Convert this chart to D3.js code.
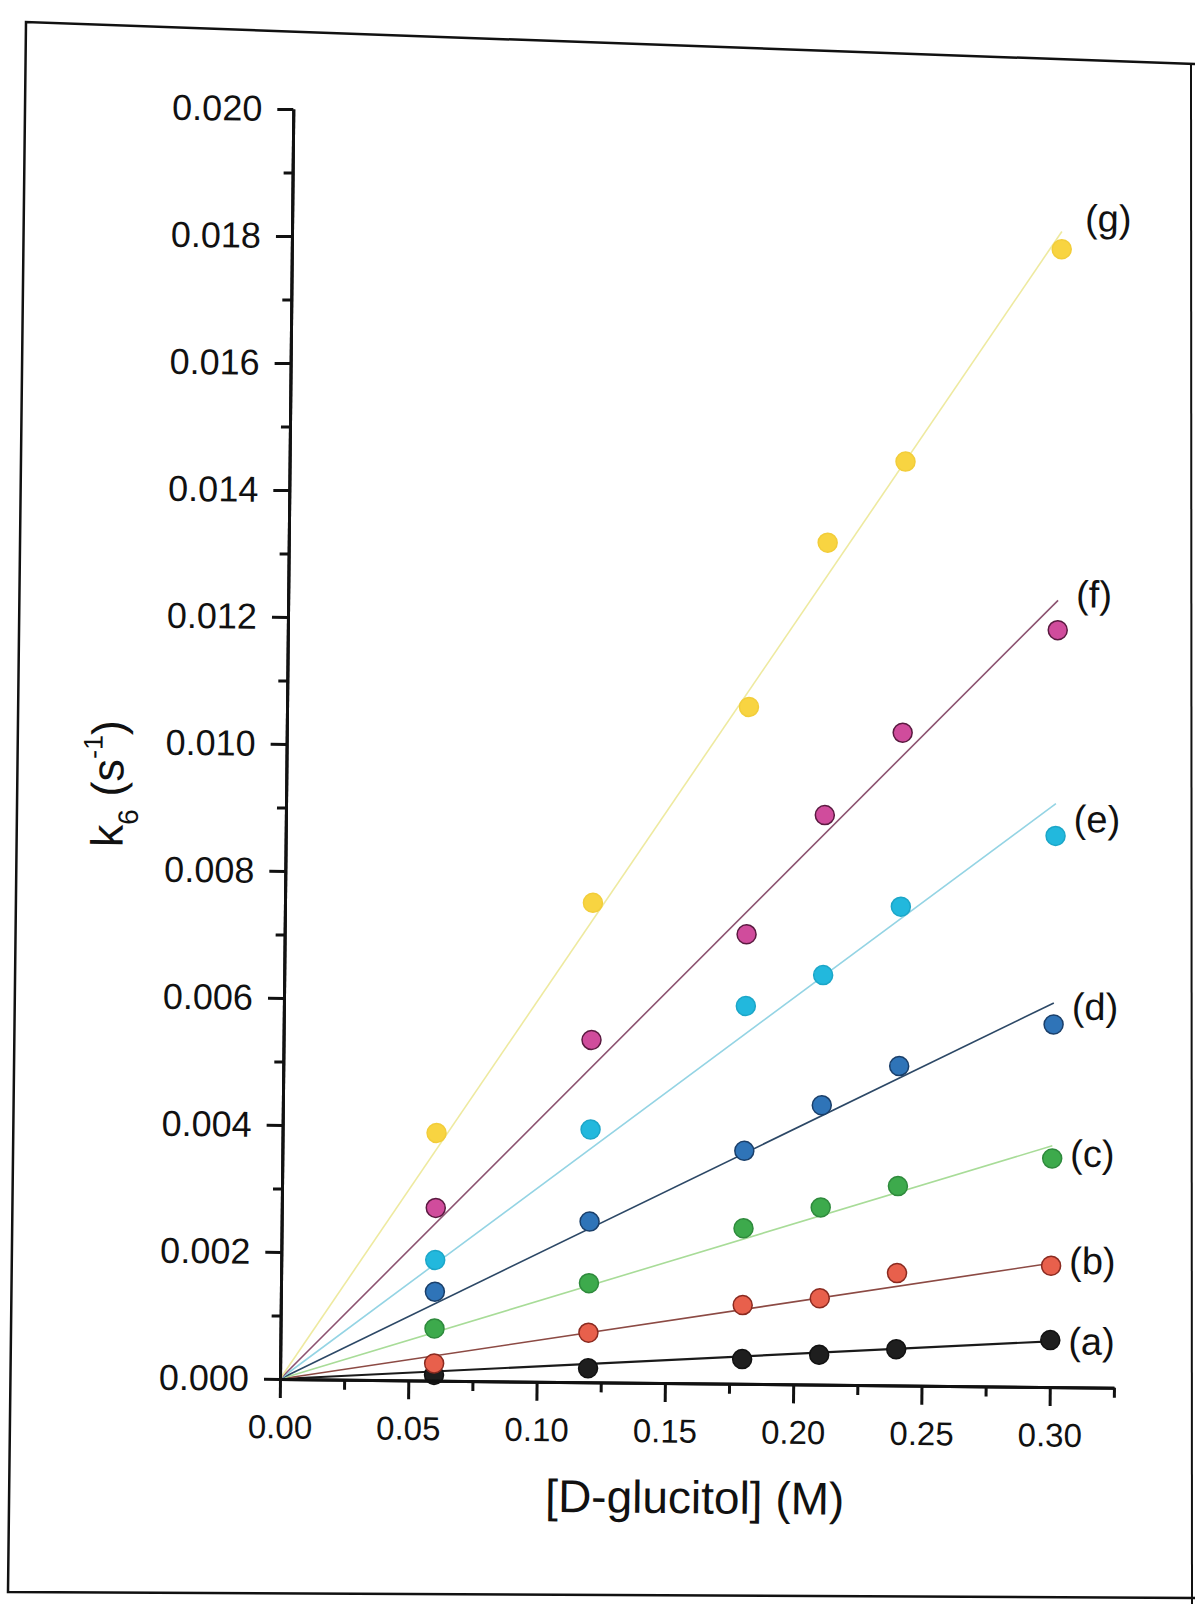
<!DOCTYPE html>
<html>
<head>
<meta charset="utf-8">
<script src="https://cdn.jsdelivr.net/npm/d3@7"></script>
<style>
  body { margin: 0; background: #fff; }
  svg { display: block; font-family: "Liberation Sans", Arial, sans-serif; }
  .axis path, .axis line { stroke: #111; stroke-width: 3; }
  .axis text { fill: #111; }
</style>
</head>
<body>
<svg id="drawing-area"></svg>
<script>
// [D-glucitol] (M) for every series
var conc = [0.06, 0.12, 0.18, 0.21, 0.24, 0.30];

// k6 (s-1)
var kA = [0.00009, 0.00022, 0.00039, 0.00047, 0.00057, 0.00074];
var kB = [0.00027, 0.00078, 0.00124, 0.00136, 0.00177, 0.00191];
var kC = [0.00082, 0.00156, 0.00245, 0.00279, 0.00314, 0.00360];
var kD = [0.00140, 0.00253, 0.00367, 0.00440, 0.00503, 0.00571];
var kE = [0.00190, 0.00398, 0.00595, 0.00645, 0.00754, 0.00868];
var kF = [0.00272, 0.00539, 0.00708, 0.00897, 0.01028, 0.01192];
var kG = [0.00390, 0.00755, 0.01066, 0.01326, 0.01455, 0.01792];

var seriesNames = ["(a)", "(b)", "(c)", "(d)", "(e)", "(f)", "(g)"];

// fitted lines through the origin, value reached at the end of the fit
var fitX = [0, 0.30];
var fitEnd = [0.00072, 0.00195, 0.00380, 0.00605, 0.00919, 0.01239, 0.01820];

var xTicks = [0, 0.05, 0.10, 0.15, 0.20, 0.25, 0.30];
var xMinor = [0.025, 0.075, 0.125, 0.175, 0.225, 0.275, 0.325];
var yTicks = [0, 0.002, 0.004, 0.006, 0.008, 0.010, 0.012, 0.014, 0.016, 0.018, 0.020];
var yMinor = [0.001, 0.003, 0.005, 0.007, 0.009, 0.011, 0.013, 0.015, 0.017, 0.019];

// styles
var fillColors = ["#1e1e1e", "#e8604c", "#3daa4c", "#2f74b8", "#22b8dd", "#d04c9c", "#f8d441"];
var edgeColors = ["#111111", "#8a2a20", "#2e8a3c", "#1a3f6a", "#1ca6c8", "#5a1a40", "#f2cd3a"];
var lineColors = ["#1a1a1a", "#8c4a44", "#a8dc98", "#2c4866", "#94d4e4", "#8c5270", "#eeeaa0"];
var labelDy = [14, 8, 8, -5, -4, -23, -18];

var width = 1195;
var height = 1604;

var svg = d3.select("#drawing-area")
    .attr("width", width)
    .attr("height", height);

// frame of the scanned page
svg.append("path")
    .attr("d", "M1195,64 L26,22 L8,1592 L1195,1598")
    .attr("fill", "none")
    .attr("stroke", "#111")
    .attr("stroke-width", 2.5);
svg.append("line")
    .attr("x1", 1191).attr("y1", 64)
    .attr("x2", 1192).attr("y2", 1604)
    .attr("stroke", "#111")
    .attr("stroke-width", 2);

// the scan is turned a little clockwise
var g = svg.append("g")
    .attr("transform", "translate(280,1379) rotate(0.6)");

var xScale = d3.scaleLinear()
    .domain([0, 0.325])
    .range([0, 834]);

var yScale = d3.scaleLinear()
    .domain([0, 0.020])
    .range([0, -1270]);

var series = [kA, kB, kC, kD, kE, kF, kG].map(function(k, i){
    return {name: seriesNames[i], k: k, fit: [[fitX[0], 0], [fitX[1], fitEnd[i]]]};
});

var line = d3.line()
    .x(function(d){ return xScale(d[0]); })
    .y(function(d){ return yScale(d[1]); });

series.forEach(function(s, i){
    g.append("path")
        .attr("d", line(s.fit))
        .attr("fill", "none")
        .attr("stroke", lineColors[i])
        .attr("stroke-width", i == 0 ? 2.2 : 1.6);
});

series.forEach(function(s, i){
    g.selectAll(".pt" + i)
        .data(s.k)
        .enter()
        .append("circle")
        .attr("class", "pt" + i)
        .attr("cx", function(d, j){ return xScale(conc[j]); })
        .attr("cy", function(d){ return yScale(d); })
        .attr("r", 9.5)
        .attr("fill", fillColors[i])
        .attr("stroke", edgeColors[i])
        .attr("stroke-width", 1.5);

    g.append("text")
        .attr("x", xScale(conc[conc.length - 1]) + (i == 6 ? 23 : 18))
        .attr("y", yScale(s.k[s.k.length - 1]) + labelDy[i])
        .attr("font-size", 38)
        .attr("fill", "#111")
        .text(s.name);
});

// axes
var xAxis = d3.axisBottom(xScale)
    .tickValues(xTicks)
    .tickSize(19)
    .tickSizeOuter(0)
    .tickPadding(17)
    .tickFormat(d3.format(".2f"));
var xAxisMinor = d3.axisBottom(xScale)
    .tickValues(xMinor)
    .tickSize(10)
    .tickSizeOuter(0)
    .tickFormat("");

var yAxis = d3.axisLeft(yScale)
    .tickValues(yTicks)
    .tickSize(16)
    .tickSizeOuter(0)
    .tickPadding(15)
    .tickFormat(d3.format(".3f"));
var yAxisMinor = d3.axisLeft(yScale)
    .tickValues(yMinor)
    .tickSize(9)
    .tickSizeOuter(0)
    .tickFormat("");

g.append("g").attr("class", "x axis").call(xAxisMinor);
g.append("g").attr("class", "x axis").call(xAxis)
    .selectAll("text")
    .attr("font-family", null)
    .style("font-size", "33px");

g.append("g").attr("class", "y axis").call(yAxisMinor);
g.append("g").attr("class", "y axis").call(yAxis)
    .selectAll("text")
    .style("font-size", "36px");

g.selectAll(".axis").attr("font-family", null);

// axis titles
g.append("text")
    .attr("x", 416)
    .attr("y", 130)
    .attr("text-anchor", "middle")
    .attr("font-size", 46)
    .attr("fill", "#111")
    .text("[D-glucitol] (M)");

var yt = g.append("text")
    .attr("transform", "translate(-163,-530) rotate(-90)")
    .attr("font-size", 45)
    .attr("fill", "#111");
yt.append("tspan").text("k");
yt.append("tspan").attr("font-size", 28).attr("dy", 15).text("6");
yt.append("tspan").attr("dy", -15).text(" (s");
yt.append("tspan").attr("font-size", 27).attr("dy", -21).text("-1");
yt.append("tspan").attr("dy", 21).text(")");
</script>
</body>
</html>
